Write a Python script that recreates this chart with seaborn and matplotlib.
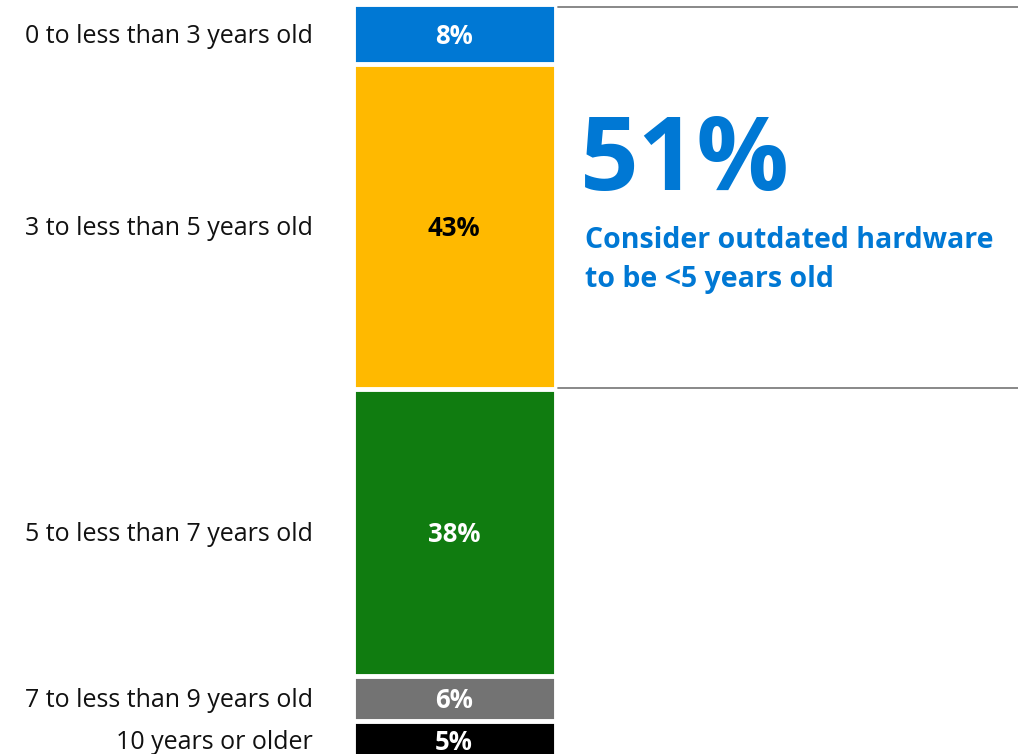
import pandas as pd
import matplotlib.pyplot as plt
import seaborn as sns

# hardware age groups, top of the bar first
age_groups = ["0 to less than 3 years old", "3 to less than 5 years old",
              "5 to less than 7 years old", "7 to less than 9 years old",
              "10 years or older"]
shares = [8, 43, 38, 6, 5]
colors = ["#0078D4", "#FFB900", "#107C10", "#737373", "#000000"]
label_colors = ["white", "black", "white", "white", "white"]
headline = "51%"
headline_note = "Consider outdated hardware\nto be <5 years old"

sns.set_style("white")
plt.rcParams["font.family"] = ["Open Sans", "DejaVu Sans"]

# cumulative ends, so overlapping bars look like one stacked column
ends = pd.Series(shares).cumsum().tolist()
starts = [e - s for e, s in zip(ends, shares)]
df = pd.DataFrame({"bar": ["all"] * len(age_groups), "group": age_groups, "end": ends})

fig = plt.figure(figsize=(10.18, 7.54), dpi=100)
ax = fig.add_axes([0, -5 / 754, 1, 755 / 754])

sns.barplot(data=df, x="bar", y="end", hue="group", hue_order=age_groups[::-1],
            palette=dict(zip(age_groups, colors)), dodge=False, width=0.8,
            saturation=1, edgecolor="white", linewidth=3.5, legend=False, ax=ax)

ax.set_ylim(100, 0)
ax.set_xlim(-454 / 253.75, (1018 - 454) / 253.75)
ax.axis("off")

for name, s, st, tc in zip(age_groups, shares, starts, label_colors):
    mid = st + s / 2 + 0.3
    ax.text(0, mid, f"{s}%", ha="center", va="center", color=tc,
            fontsize=18.5, fontweight="bold")
    ax.text(313 / 1018, mid, name, transform=ax.get_yaxis_transform(),
            ha="right", va="center", fontsize=18, color="#111111")

# bracket lines around the under-5-years share
ax.axhline(0.4, xmin=558 / 1018, xmax=1, color="#7f7f7f", linewidth=1.3)
ax.axhline(ends[1] - 0.2, xmin=558 / 1018, xmax=1, color="#7f7f7f", linewidth=1.3)

fig.text(580 / 1018, 1 - 190 / 754, headline, ha="left", va="baseline",
         fontsize=74, fontweight="bold", color="#0078D4")
for i, line in enumerate(headline_note.split("\n")):
    fig.text(585 / 1018, 1 - (248 + 39 * i) / 754, line, ha="left", va="baseline",
             fontsize=20.5, fontweight="bold", color="#0078D4")

fig.savefig("out.png", dpi=100)
